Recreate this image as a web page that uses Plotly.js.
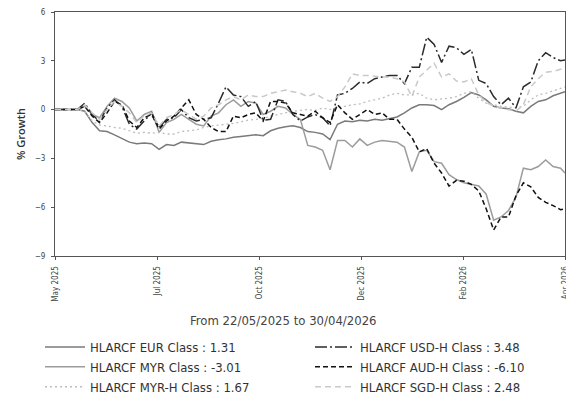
<!DOCTYPE html>
<html><head><meta charset="utf-8">
<script src="https://cdn.plot.ly/plotly-3.0.1.min.js"></script>
<style>html,body{margin:0;padding:0;background:#fff;overflow:hidden}#chart{width:566px;height:400px}</style>
</head><body><div id="chart"></div>
<script>
// Day index since 22/05/2025 (last = 30/04/2026)
const days = [0,5,10,15,20,25,30,35,40,45,50,55,60,65,70,75,80,85,90,95,100,105,110,115,120,125,130,135,140,145,150,155,160,165,170,175,180,185,190,195,200,205,210,215,220,225,230,235,240,245,250,255,260,265,270,275,280,285,290,295,300,305,310,315,320,325,330,335,340,343];
const tickLabels = ['May 2025','Jul 2025','Oct 2025','Dec 2025','Feb 2026','Apr 2026'];
const subtitle = 'From 22/05/2025 to 30/04/2026';
const yTitle = '% Growth';
const seriesNames = ['HLARCF EUR Class : 1.31','HLARCF MYR Class : -3.01','HLARCF MYR-H Class : 1.67','HLARCF USD-H Class : 3.48','HLARCF AUD-H Class : -6.10','HLARCF SGD-H Class : 2.48'];

const eur = [0,0,0,0,-0.1,-0.8,-1.3,-1.35,-1.55,-1.75,-2.0,-2.1,-2.05,-2.1,-2.45,-2.15,-2.2,-2.0,-2.05,-2.1,-2.15,-1.95,-1.85,-1.8,-1.7,-1.65,-1.6,-1.55,-1.6,-1.3,-1.15,-1.05,-1.0,-1.1,-1.35,-1.4,-1.5,-1.85,-0.9,-0.7,-0.75,-0.65,-0.7,-0.6,-0.65,-0.55,-0.45,-0.2,0.1,0.3,0.3,0.25,0.0,0.3,0.5,0.75,1.05,0.9,0.6,0.2,0.1,0.05,-0.1,-0.2,0.2,0.5,0.6,0.85,1.0,1.1];
const myr = [0,0,0,0,0.2,-0.3,-0.5,0.2,0.7,0.5,0.1,-0.7,-0.3,-0.1,-1.4,-0.8,-0.6,-0.3,-0.6,-0.9,-1.0,-0.4,-0.2,0.3,0.6,0.2,0.5,0.4,-0.3,-0.1,0.2,0.1,-0.3,-0.6,-2.2,-2.3,-2.5,-3.7,-1.9,-1.9,-2.3,-1.8,-2.2,-2.0,-1.9,-1.95,-2.0,-2.3,-3.8,-2.6,-2.5,-3.2,-3.3,-4.0,-4.3,-4.5,-4.6,-4.7,-5.2,-6.8,-6.6,-6.2,-5.4,-3.6,-3.7,-3.5,-3.1,-3.5,-3.6,-3.9];
const myrH = [0,0,0,0,-0.1,-0.7,-0.95,-1.0,-1.1,-1.15,-1.3,-1.45,-1.4,-1.45,-1.4,-1.5,-1.5,-1.35,-1.3,-1.25,-1.1,-1.0,-0.95,-0.9,-0.85,-0.75,-0.65,-0.6,-0.55,-0.4,-0.3,-0.2,-0.1,-0.05,0.0,-0.05,0.1,0.0,0.15,0.2,0.3,0.35,0.5,0.6,0.7,0.9,1.0,0.9,0.9,1.0,0.7,0.6,0.65,0.7,0.8,1.0,1.1,0.7,0.4,0.3,0.2,0.15,0.1,0.2,0.6,0.9,1.0,1.15,1.3,1.4];
const usdH = [0,0,0,0,0.4,-0.3,-0.75,0.1,0.6,0.2,-0.9,-1.2,-0.7,-0.2,-1.1,-0.6,-0.5,0.0,-0.5,-0.7,-0.6,-0.5,0.4,1.4,0.9,0.8,0.2,0.5,-0.65,-0.6,0.6,0.5,-0.3,-0.7,-0.45,-0.3,-0.5,-1.0,0.9,1.0,1.3,1.7,1.6,1.9,2.0,2.1,2.1,1.6,2.6,2.6,4.45,4.0,2.9,3.9,3.8,3.4,3.7,1.8,1.6,0.8,0.3,0.7,0.1,1.4,1.7,3.0,3.5,3.2,3.0,3.05];
const audH = [0,0,0,0,0.2,-0.4,-0.8,-0.2,0.5,0.3,-0.7,-1.1,-0.5,-0.3,-1.2,-0.7,-0.4,0.1,0.6,-0.3,-0.6,-1.1,-1.35,-1.35,-0.4,-0.5,-0.3,-0.2,-0.7,0.5,0.5,0.4,-0.2,-0.3,-0.4,-0.1,-0.5,-0.8,0.3,-0.2,-0.6,-0.3,0.0,-0.3,-0.2,-0.6,-0.6,-1.2,-1.7,-2.6,-2.4,-3.3,-3.9,-4.7,-4.35,-4.4,-4.6,-5.0,-6.1,-7.4,-6.6,-6.6,-5.3,-4.5,-4.75,-5.4,-5.7,-5.9,-6.15,-6.1];
const sgdH = [0,0,0,0,0.3,-0.2,-0.6,0.0,0.5,0.2,-0.2,-0.8,-0.4,-0.2,-1.0,-0.5,-0.3,0.0,-0.3,-0.6,-0.4,0.1,0.3,0.6,0.8,0.6,0.9,0.8,0.8,1.0,1.1,1.2,1.1,1.0,0.8,1.0,0.7,0.5,0.8,1.4,2.2,2.1,2.1,2.05,2.0,2.0,1.9,1.7,0.8,2.0,2.4,2.85,2.0,2.2,1.75,1.7,1.9,0.9,0.45,0.2,0.1,0.0,-0.1,0.3,1.4,1.9,2.3,2.35,2.45,2.55];

const yTicks = [-9,-6,-3,0,3,6];
const lastDay = days[days.length - 1];
const tickPositions = tickLabels.map((_, i) => i * lastDay / (tickLabels.length - 1));

const FONT = '"DejaVu Sans Condensed", "Liberation Sans Narrow", "Open Sans", sans-serif';

const styles = [
  {color:'#7a7a7a', dash:'solid', width:1.5, legend:'legend'},
  {color:'#9c9c9c', dash:'solid', width:1.5, legend:'legend'},
  {color:'#bdbdbd', dash:'2px,3px', width:1.3, legend:'legend'},
  {color:'#2b2b2b', dash:'12px,3px,2px,3px', width:1.5, legend:'legend2'},
  {color:'#111111', dash:'5px,3px', width:1.5, legend:'legend2'},
  {color:'#c9c9c9', dash:'6px,4px', width:1.5, legend:'legend2'}
];
const values = [eur, myr, myrH, usdH, audH, sgdH];

const traces = values.map((v, i) => ({
  type:'scatter', mode:'lines', x: days, y: v, name: seriesNames[i],
  line:{color: styles[i].color, dash: styles[i].dash, width: styles[i].width},
  legend: styles[i].legend, hoverinfo:'skip'
}));

const legendCommon = {
  orientation:'v', xref:'container', yref:'container', xanchor:'left', yanchor:'top',
  font:{family:FONT, size:13, color:'#333'}, itemwidth:40, bgcolor:'rgba(0,0,0,0)',
  tracegroupgap:0, traceorder:'normal', itemclick:false
};

const layout = {
  width:566, height:400, autosize:false,
  margin:{l:55, r:1, t:12, b:144, autoexpand:false},
  paper_bgcolor:'#fff', plot_bgcolor:'#fff',
  showlegend:true,
  legend: Object.assign({}, legendCommon, {x:40/566, y:1-332/400}),
  legend2: Object.assign({}, legendCommon, {x:310/566, y:1-332/400}),
  xaxis:{
    range:[0, lastDay], tickmode:'array', tickvals:tickPositions, ticktext:tickLabels,
    tickangle:-90, ticks:'outside', ticklen:3, tickcolor:'#555', tickwidth:1,
    showline:true, linecolor:'#555', linewidth:1, mirror:true,
    showgrid:false, zeroline:false, ticklabelstandoff:3, ticklabeloverflow:'allow',
    tickfont:{family:FONT, size:8, color:'#444'}
  },
  yaxis:{
    range:[-9, 6], tickmode:'array', tickvals:yTicks,
    ticks:'outside', ticklen:3, tickcolor:'#555', tickwidth:1,
    showline:true, linecolor:'#555', linewidth:1, mirror:true,
    showgrid:false, zeroline:false, ticklabelstandoff:4,
    tickfont:{family:FONT, size:8, color:'#444'}
  },
  annotations:[{
    text: subtitle, xref:'paper', yref:'paper', x:(283-55)/510, y:(256-320)/244,
    xanchor:'center', yanchor:'middle', showarrow:false,
    font:{family:FONT, size:13, color:'#444'}
  },{
    text: yTitle, xref:'paper', yref:'paper', x:(20-55)/510, y:0.5, textangle:-90,
    xanchor:'center', yanchor:'middle', showarrow:false,
    font:{family:'"Open Sans", sans-serif', size:11, color:'#333', weight:600}
  }]
};

Plotly.newPlot('chart', traces, layout, {displayModeBar:false, staticPlot:true});
</script>
</body></html>
